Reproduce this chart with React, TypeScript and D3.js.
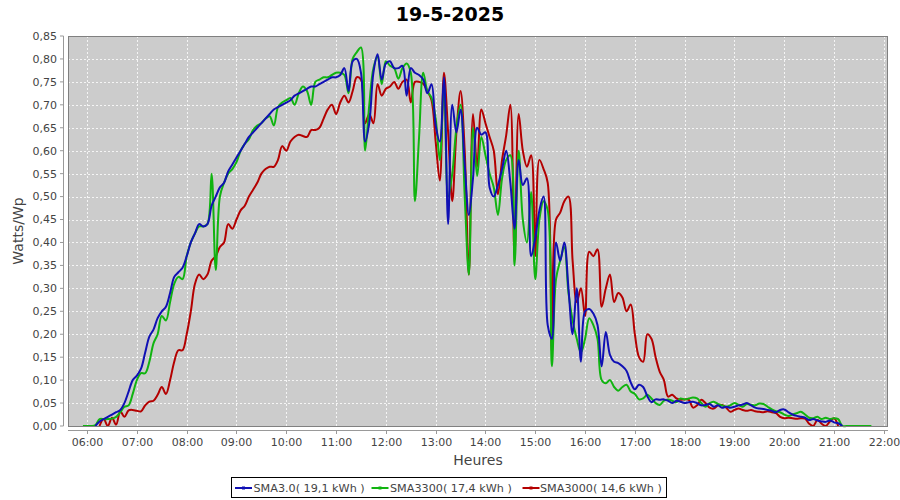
import * as d3 from 'd3';

// samples every 5 minutes, starting at each series' start time
const STEP = 5;

const sma30Start = '06:10';
const sma30 = [
  0.0, 0.01, 0.015, 0.02, 0.025, 0.03, 0.035, 0.05, 0.075, 0.1,
  0.11, 0.125, 0.16, 0.195, 0.21, 0.235, 0.25, 0.26, 0.29, 0.325, 0.335, 0.345,
  0.37, 0.4, 0.42, 0.44, 0.435, 0.44, 0.48, 0.5, 0.52, 0.53, 0.555, 0.57,
  0.585, 0.6, 0.615, 0.63, 0.64, 0.65, 0.66, 0.67, 0.68, 0.69, 0.695, 0.7,
  0.705, 0.71, 0.72, 0.725, 0.73, 0.735, 0.74, 0.74, 0.745, 0.75, 0.755, 0.76,
  0.76, 0.765, 0.78, 0.73, 0.795, 0.8, 0.77, 0.62, 0.66, 0.77, 0.81, 0.755,
  0.79, 0.795, 0.78, 0.78, 0.785, 0.72, 0.78, 0.77, 0.765, 0.755, 0.725, 0.745,
  0.655, 0.62, 0.76, 0.44, 0.7, 0.64, 0.69, 0.57, 0.46, 0.54, 0.65, 0.635,
  0.64, 0.52, 0.5, 0.525, 0.56, 0.6, 0.53, 0.43, 0.58, 0.525, 0.54, 0.37,
  0.41, 0.47, 0.5, 0.22, 0.19, 0.4, 0.36, 0.4, 0.3, 0.2, 0.3, 0.14,
  0.25, 0.255, 0.245, 0.22, 0.13, 0.205, 0.155, 0.14, 0.137, 0.13, 0.12, 0.095,
  0.08, 0.09, 0.085, 0.065, 0.052, 0.058, 0.057, 0.058, 0.055, 0.05, 0.055, 0.053,
  0.05, 0.052, 0.053, 0.05, 0.045, 0.046, 0.048, 0.042, 0.045, 0.04, 0.042, 0.04,
  0.042, 0.045, 0.047, 0.05, 0.045, 0.04, 0.038, 0.037, 0.035, 0.033, 0.03, 0.035,
  0.036, 0.03, 0.025, 0.022, 0.02, 0.018, 0.013, 0.015, 0.012, 0.01, 0.009, 0.012,
  0.008, 0.006, 0.0,
];

const sma3300Start = '05:55';
const sma3300 = [
  0.0,
  0.0, 0.0, 0.002, 0.015, 0.015, 0.015, 0.016, 0.02, 0.03, 0.042, 0.045, 0.07,
  0.1, 0.115, 0.115, 0.14, 0.18, 0.2, 0.24, 0.23, 0.27, 0.31, 0.325, 0.32,
  0.37, 0.4, 0.42, 0.435, 0.435, 0.44, 0.55, 0.34, 0.5, 0.53, 0.55, 0.56,
  0.575, 0.6, 0.615, 0.625, 0.645, 0.655, 0.66, 0.67, 0.675, 0.655, 0.695, 0.705,
  0.71, 0.715, 0.7, 0.725, 0.74, 0.73, 0.7, 0.75, 0.755, 0.76, 0.76, 0.765,
  0.77, 0.77, 0.765, 0.725, 0.8, 0.815, 0.825, 0.6, 0.7, 0.78, 0.805, 0.745,
  0.795, 0.785, 0.78, 0.757, 0.78, 0.79, 0.77, 0.49, 0.63, 0.77, 0.73, 0.715,
  0.67, 0.58, 0.745, 0.5, 0.55, 0.65, 0.7, 0.5, 0.33, 0.65, 0.545, 0.63,
  0.59, 0.55, 0.52, 0.46, 0.54, 0.58, 0.59, 0.35, 0.6, 0.45, 0.4, 0.51,
  0.32, 0.45, 0.49, 0.47, 0.13, 0.32, 0.36, 0.39, 0.29, 0.23, 0.19, 0.16,
  0.19, 0.235, 0.22, 0.19, 0.1, 0.093, 0.1, 0.085, 0.077, 0.085, 0.09, 0.075,
  0.07, 0.058, 0.06, 0.068, 0.06, 0.05, 0.046, 0.055, 0.058, 0.055, 0.052, 0.06,
  0.058, 0.06, 0.062, 0.06, 0.05, 0.042, 0.05, 0.053, 0.048, 0.045, 0.042, 0.045,
  0.05, 0.046, 0.042, 0.048, 0.046, 0.045, 0.049, 0.048, 0.042, 0.036, 0.032, 0.03,
  0.025, 0.022, 0.025, 0.028, 0.031, 0.025, 0.018, 0.017, 0.02, 0.015, 0.018, 0.015,
  0.017, 0.015, 0.0, 0.0, 0.0, 0.0, 0.0, 0.0, 0.0, 0.0,
];

const sma3000Start = '06:15';
const sma3000 = [
  0.0, 0.015, 0.0, 0.018, 0.003, 0.032, 0.02, 0.034, 0.035,
  0.033, 0.032, 0.045, 0.053, 0.055, 0.068, 0.085, 0.07, 0.1, 0.14, 0.165, 0.165,
  0.2, 0.25, 0.31, 0.33, 0.32, 0.33, 0.36, 0.37, 0.39, 0.4, 0.44, 0.43,
  0.45, 0.47, 0.48, 0.5, 0.515, 0.53, 0.55, 0.56, 0.565, 0.565, 0.58, 0.61,
  0.6, 0.62, 0.63, 0.635, 0.632, 0.63, 0.645, 0.645, 0.65, 0.67, 0.69, 0.7,
  0.68, 0.705, 0.72, 0.705, 0.73, 0.76, 0.755, 0.66, 0.68, 0.66, 0.745, 0.72,
  0.735, 0.74, 0.75, 0.735, 0.75, 0.755, 0.705, 0.75, 0.75, 0.746, 0.73, 0.71,
  0.62, 0.535, 0.77, 0.64, 0.49, 0.64, 0.73, 0.6, 0.33, 0.68, 0.565, 0.69,
  0.66, 0.63, 0.6, 0.505, 0.58, 0.634, 0.7, 0.37, 0.68, 0.6, 0.565, 0.59,
  0.37, 0.58, 0.56, 0.53, 0.16, 0.45, 0.465, 0.49, 0.5, 0.36, 0.27, 0.3,
  0.24, 0.38, 0.37, 0.385, 0.26, 0.3, 0.33, 0.27, 0.29, 0.28, 0.25, 0.265,
  0.2, 0.15, 0.14, 0.2, 0.19, 0.15, 0.118, 0.1, 0.064, 0.068, 0.06, 0.057,
  0.058, 0.057, 0.04, 0.045, 0.057, 0.05, 0.04, 0.038, 0.045, 0.046, 0.04, 0.031,
  0.035, 0.038, 0.035, 0.033, 0.035, 0.032, 0.031, 0.03, 0.032, 0.03, 0.028, 0.02,
  0.017, 0.018, 0.017, 0.016, 0.017, 0.016, 0.005, 0.0, 0.013, 0.005, 0.0, 0.01,
  0.017, 0.0,
];

const seriesNames = ['SMA3.0', 'SMA3300', 'SMA3000'];
const seriesEnergy = ['19,1', '17,4', '14,6'];
const seriesColors = ['#1010b4', '#10b410', '#b40000'];

const title = '19-5-2025';
const xTitle = 'Heures';
const yTitle = 'Watts/Wp';
const hourTicks = d3.range(6, 23);
const yTicks = d3.range(0, 18).map((i) => i * 0.05);

const W = 900;
const H = 500;
const plot = { left: 68, right: 888, top: 36, bottom: 426 };
const FONT = 'DejaVu Sans, sans-serif';

const toMin = (s: string) => {
  const [h, m] = s.split(':').map(Number);
  return h * 60 + m;
};

export default function App() {
  const x = d3.scaleLinear().domain([337, 1325]).range([plot.left, plot.right]);
  const y = d3.scaleLinear().domain([0, 0.85]).range([plot.bottom, plot.top]);

  const raw = [
    { start: sma30Start, values: sma30 },
    { start: sma3300Start, values: sma3300 },
    { start: sma3000Start, values: sma3000 },
  ];
  const series = raw.map((r, i) => ({
    name: seriesNames[i],
    energy: seriesEnergy[i],
    color: seriesColors[i],
    points: r.values.map((v, k) => ({ t: toMin(r.start) + k * STEP, v })),
  }));

  const line = d3
    .line<{ t: number; v: number }>()
    .x((d) => x(d.t))
    .y((d) => y(d.v))
    .curve(d3.curveCatmullRom.alpha(0.5));

  const fmtY = (v: number) => v.toFixed(2).replace('.', ',');
  const fmtH = (h: number) => `${String(h).padStart(2, '0')}:00`;

  // legend layout (line start, text start)
  const legendItems = [
    { lx: 235, tx: 253.5 },
    { lx: 371.5, tx: 390 },
    { lx: 522.5, tx: 540 },
  ];

  return (
    <svg
      width={W}
      height={H}
      style={{ position: 'absolute', left: 0, top: 0, background: '#fff' }}
      fontFamily={FONT}
    >
      <rect width={W} height={H} fill="#fff" />
      <text x={450} y={21} textAnchor="middle" fontSize={19} fontWeight="bold" fill="#000">
        {title}
      </text>

      {/* plot background */}
      <rect
        x={plot.left}
        y={plot.top}
        width={plot.right - plot.left}
        height={plot.bottom - plot.top}
        fill="#cccccc"
      />

      {/* grid */}
      <g stroke="#ffffff" strokeWidth={0.8} strokeDasharray="2,2">
        {yTicks.slice(1, -1).map((t) => (
          <line key={`gy${t}`} x1={plot.left} x2={plot.right} y1={Math.round(y(t)) + 0.5} y2={Math.round(y(t)) + 0.5} />
        ))}
        {hourTicks.map((h) => (
          <line key={`gx${h}`} x1={Math.round(x(h * 60)) + 0.5} x2={Math.round(x(h * 60)) + 0.5} y1={plot.top} y2={plot.bottom} />
        ))}
      </g>

      {/* series, last drawn first */}
      <g fill="none" strokeWidth={2} strokeLinejoin="round">
        {[...series].reverse().map((s) => (
          <path key={s.name} d={line(s.points) ?? ''} stroke={s.color} />
        ))}
      </g>

      <rect
        x={plot.left + 0.5}
        y={plot.top + 0.5}
        width={plot.right - plot.left - 1}
        height={plot.bottom - plot.top}
        fill="none"
        stroke="#808080"
        strokeWidth={1}
      />

      {/* y axis */}
      <line x1={63.5} x2={63.5} y1={plot.top} y2={plot.bottom} stroke="#999" />
      {yTicks.map((t) => (
        <g key={`ty${t}`} transform={`translate(0,${y(t)})`}>
          <line x1={60} x2={63.5} stroke="#999" />
          <text x={57} dy="0.35em" textAnchor="end" fontSize={11} fill="#444">
            {fmtY(t)}
          </text>
        </g>
      ))}
      <text
        transform={`translate(23,${(plot.top + plot.bottom) / 2}) rotate(-90)`}
        textAnchor="middle"
        fontSize={14}
        fill="#444"
      >
        {yTitle}
      </text>

      {/* x axis */}
      <line x1={plot.left} x2={plot.right} y1={430.5} y2={430.5} stroke="#999" />
      {hourTicks.map((h) => (
        <g key={`tx${h}`} transform={`translate(${Math.round(x(h * 60)) + 0.5},0)`}>
          <line y1={430.5} y2={434} stroke="#999" />
          <text y={446} textAnchor="middle" fontSize={11} fill="#444">
            {fmtH(h)}
          </text>
        </g>
      ))}
      <text x={(plot.left + plot.right) / 2} y={465} textAnchor="middle" fontSize={14} fill="#444">
        {xTitle}
      </text>

      {/* legend */}
      <rect x={231.5} y={477.5} width={435} height={20} fill="#fff" stroke="#000" />
      {series.map((s, i) => (
        <g key={`lg${s.name}`}>
          <line x1={legendItems[i].lx} x2={legendItems[i].lx + 17} y1={488} y2={488} stroke={s.color} strokeWidth={2} />
          <rect x={legendItems[i].lx + 7} y={486.5} width={3} height={3} fill={s.color} />
          <text x={legendItems[i].tx} y={492} fontSize={11.2} fill="#444">
            {`${s.name}( ${s.energy} kWh )`}
          </text>
        </g>
      ))}
    </svg>
  );
}
